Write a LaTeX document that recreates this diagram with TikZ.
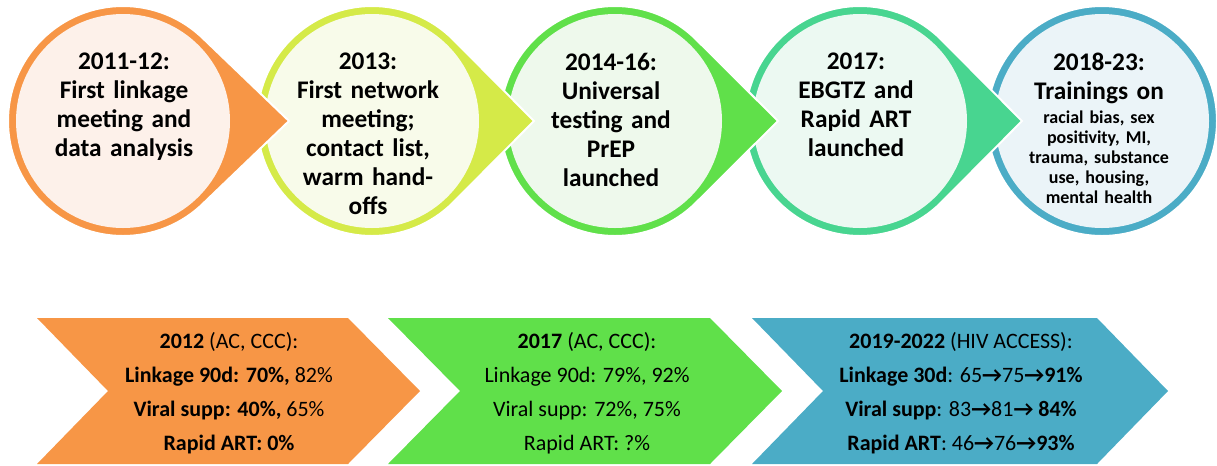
\documentclass[tikz,border=0pt]{standalone}
\usepackage{fontspec}
\setmainfont{Carlito}
\usetikzlibrary{positioning}
\definecolor{ORANGE}{HTML}{F79646}
\definecolor{LIME}{HTML}{D5EA48}
\definecolor{GREEN}{HTML}{60E04A}
\definecolor{TEAL}{HTML}{48D590}
\definecolor{BLUE}{HTML}{4BACC6}
\definecolor{ORANGElight}{HTML}{FDF1EA}
\definecolor{LIMElight}{HTML}{F8FBEA}
\definecolor{GREENlight}{HTML}{EEF9EC}
\definecolor{TEALlight}{HTML}{ECF9F2}
\definecolor{BLUElight}{HTML}{EBF4F8}

\begin{document}
\begin{tikzpicture}[x=0.75pt,y=-0.75pt]
  \tikzset{DropStyle/.style  = {draw=white, line width=1.5pt},
           YearStyle/.style  = {anchor=north, inner sep=0pt, align=center,
                                text width=160pt,
                                font=\bfseries\fontsize{19}{21.75}\selectfont},
           SmallStyle/.style = {inner sep=0pt, align=center, text width=160pt,
                                font=\bfseries\fontsize{13.5}{15}\selectfont},
           ChevStyle/.style  = {inner sep=0pt, align=center,
                                font=\fontsize{16.5}{25.5}\selectfont}}
  \useasboundingbox (0,0) rectangle (1217,465);
  %%% TIMELINE (drawn right to left, each tip lies over the next circle) %%%
  \filldraw[fill=BLUE, DropStyle] (1102,121) circle[radius=115];
  \fill[BLUElight] (1102,121) circle[radius=107];
  \node[YearStyle] (y5) at (1099,53) {2018-23:\\Trainings on};
  \node[SmallStyle, below=5pt of y5] (y5b) {racial bias, sex\\positivity, MI,\\trauma, substance\\use, housing,\\mental health};
  \filldraw[fill=TEAL, DropStyle] (860,121) ++(45:115)
    arc[start angle=45, end angle=315, radius=115] -- (1022,121) -- cycle;
  \fill[TEALlight] (860,121) circle[radius=107];
  \node[YearStyle] (y4) at (856,53) {2017:\\EBGTZ and\\Rapid ART\\launched};
  \filldraw[fill=GREEN, DropStyle] (615,121) ++(45:115)
    arc[start angle=45, end angle=315, radius=115] -- (778,121) -- cycle;
  \fill[GREENlight] (615,121) circle[radius=107];
  \node[YearStyle] (y3) at (611,53) {2014-16:\\Universal\\testing and\\PrEP\\launched};
  \filldraw[fill=LIME, DropStyle] (372,121) ++(45:115)
    arc[start angle=45, end angle=315, radius=115] -- (534,121) -- cycle;
  \fill[LIMElight] (372,121) circle[radius=107];
  \node[YearStyle] (y2) at (368,53) {2013:\\First network\\meeting;\\contact list,\\warm hand-\\offs};
  \filldraw[fill=ORANGE, DropStyle] (123,121) ++(45:115)
    arc[start angle=45, end angle=315, radius=115] -- (289,121) -- cycle;
  \fill[ORANGElight] (123,121) circle[radius=107];
  \node[YearStyle] (y1) at (124,53) {2011-12:\\First linkage\\meeting and\\data analysis};
  %%% RESULTS %%%
  \fill[ORANGE] (37,318) -- (348,318) -- (420,391) -- (348,464) -- (37,464) -- (108,391) -- cycle;
  \node[ChevStyle] (c1) at (229,393) {\textbf{2012} (AC, CCC):\\
    \textbf{Linkage 90d: 70\%,} 82\%\\
    \textbf{Viral supp: 40\%,} 65\%\\
    \textbf{Rapid ART: 0\%}};
  \fill[GREEN] (388,318) -- (710,318) -- (782,391) -- (710,464) -- (388,464) -- (460,391) -- cycle;
  \node[ChevStyle] (c2) at (587,393) {\textbf{2017} (AC, CCC):\\
    Linkage 90d: 79\%, 92\%\\
    Viral supp: 72\%, 75\%\\
    Rapid ART: ?\%};
  \fill[BLUE] (752,318) -- (1097,318) -- (1168,391) -- (1097,464) -- (752,464) -- (823,391) -- cycle;
  \node[ChevStyle] (c3) at (961,393) {\textbf{2019-2022} (HIV ACCESS):\\
    \textbf{Linkage 30d}: 65{\bfseries →}75{\bfseries →}\textbf{91\%}\\
    \textbf{Viral supp}: 83{\bfseries →}81{\bfseries →} \textbf{84\%}\\
    \textbf{Rapid ART}: 46{\bfseries →}76{\bfseries →}\textbf{93\%}};
\end{tikzpicture}
\end{document}
